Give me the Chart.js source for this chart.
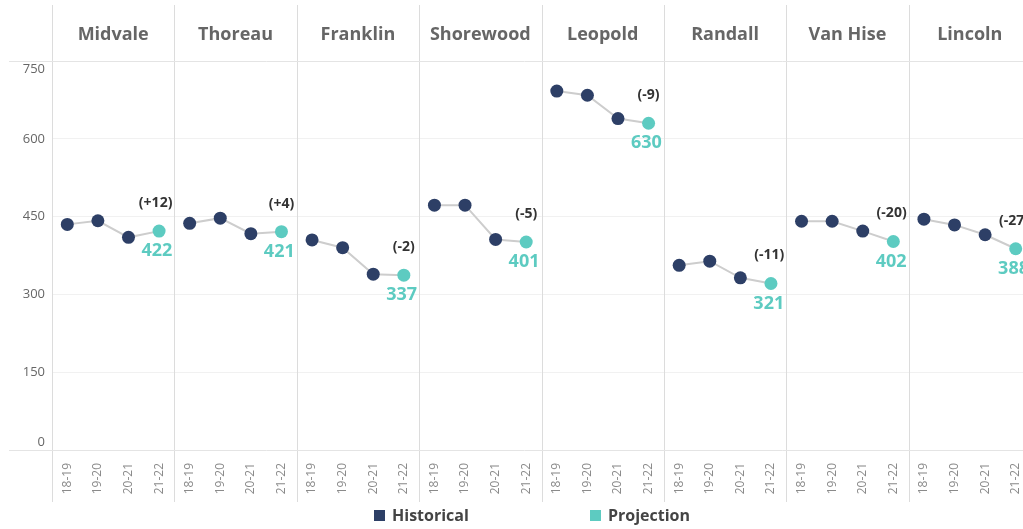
<!DOCTYPE html>
<html>
<head>
<meta charset="utf-8">
<script src="https://cdn.jsdelivr.net/npm/chart.js@4.4.1/dist/chart.umd.min.js"></script>
<style>
  html, body { margin: 0; padding: 0; background: #ffffff; overflow: hidden; width: 1023px; height: 529px; }
  #wrap { position: absolute; left: 0; top: 0; width: 1040px; height: 529px; }
  #legend { position: absolute; left: 0; top: 0; width: 1023px; height: 529px; pointer-events: none;
            font-family: "Open Sans", sans-serif; font-weight: bold; font-size: 16px; color: #444; }
  .item { position: absolute; top: 503px; line-height: 24px; white-space: nowrap; }
  .sw { position: absolute; top: 7px; width: 11px; height: 11px; }
  .lt { position: absolute; top: 0; }
</style>
</head>
<body>
<div id="wrap"><canvas id="c" width="1040" height="529"></canvas></div>
<div id="legend">
  <div class="item" style="left:374px"><span class="sw" style="left:0;background:#2d3f66"></span><span class="lt" style="left:18px">Historical</span></div>
  <div class="item" style="left:590px"><span class="sw" style="left:0;background:#5dcbc1"></span><span class="lt" style="left:18px">Projection</span></div>
</div>
<script>
// ---- data ----
const schools = ["Midvale", "Thoreau", "Franklin", "Shorewood", "Leopold", "Randall", "Van Hise", "Lincoln"];
const years   = ["18-19", "19-20", "20-21", "21-22"];
const y1819   = [435, 437, 405, 472, 692, 356, 441, 445];
const y1920   = [442, 447, 390, 472, 684, 364, 441, 434];
const y2021   = [410, 417, 339, 406, 639, 332, 422, 415];
const y2122   = [422, 421, 337, 401, 630, 321, 402, 388];   // projection
const yTicks  = [0, 150, 300, 450, 600, 750];

const NAVY = "#2d3f66", TEAL = "#5dcbc1";

// flatten into 32 categories (school x year)
const labels = [], allVals = [], hist = [], proj = [];
schools.forEach((s, i) => {
  const v = [y1819[i], y1920[i], y2021[i], y2122[i]];
  years.forEach((y, j) => {
    labels.push(y);
    allVals.push(v[j]);
    hist.push(j < 3 ? v[j] : null);
    proj.push(j === 3 ? v[j] : null);
  });
});

function boundaries(chart) {
  const x = chart.scales.x, a = chart.chartArea, b = [a.left];
  for (let k = 1; k < schools.length; k++) {
    b.push((x.getPixelForValue(4 * k - 1) + x.getPixelForValue(4 * k)) / 2);
  }
  b.push(a.right);
  return b;
}

const framePlugin = {
  id: "frame",
  beforeDatasetsDraw(chart) {
    const ctx = chart.ctx, a = chart.chartArea;
    ctx.save();
    ctx.lineWidth = 1;
    ctx.strokeStyle = "#dcdcdc";
    boundaries(chart).forEach(bx => {
      const px = Math.round(bx) + 0.5;
      ctx.beginPath(); ctx.moveTo(px, 5); ctx.lineTo(px, 502); ctx.stroke();
    });
    ctx.strokeStyle = "#e4e4e4";
    [a.top, a.bottom].forEach(py => {
      const yy = Math.round(py) + 0.5;
      ctx.beginPath(); ctx.moveTo(9, yy); ctx.lineTo(chart.width, yy); ctx.stroke();
    });
    ctx.restore();
  }
};

const labelPlugin = {
  id: "projLabels",
  afterDatasetsDraw(chart) {
    const ctx = chart.ctx;
    const meta = chart.getDatasetMeta(1);
    const b = boundaries(chart);
    ctx.save();
    ctx.textBaseline = "middle";
    ctx.textAlign = "left";
    schools.forEach((s, i) => {
      const pt = meta.data[i * 4 + 3];
      if (!pt) return;
      const d = y2122[i] - y2021[i];
      const dTxt = "(" + (d > 0 ? "+" : "") + d + ")";
      const vTxt = String(y2122[i]);
      const right = b[i + 1] - 2;
      ctx.font = "bold 14px 'Open Sans'";
      ctx.fillStyle = "#333333";
      let w = ctx.measureText(dTxt).width;
      let lx = Math.min(pt.x - w / 2, right - w);
      ctx.fillText(dTxt, lx, pt.y - 28);
      ctx.font = "bold 18px 'Open Sans'";
      ctx.fillStyle = TEAL;
      w = ctx.measureText(vTxt).width;
      lx = Math.min(pt.x - w / 2, right - w);
      ctx.fillText(vTxt, lx, pt.y + 20);
    });
    ctx.restore();
  }
};

new Chart(document.getElementById("c"), {
  type: "line",
  data: {
    labels: labels,
    datasets: [
      { label: "Historical", data: hist, showLine: false, pointRadius: 6.5, pointHoverRadius: 6.5,
        pointBackgroundColor: NAVY, pointBorderWidth: 0, borderColor: NAVY, backgroundColor: NAVY },
      { label: "Projection", data: proj, showLine: false, pointRadius: 6.5, pointHoverRadius: 6.5,
        pointBackgroundColor: TEAL, pointBorderWidth: 0, borderColor: TEAL, backgroundColor: TEAL },
      { label: "trend", data: allVals, pointRadius: 0, borderWidth: 2, borderColor: "#cdcdcd",
        segment: { borderColor: c => (c.p0DataIndex % 4 === 3 ? "rgba(0,0,0,0)" : "#cdcdcd") } }
    ]
  },
  options: {
    responsive: false,
    animation: false,
    layout: { padding: { left: 0, right: 9, top: 0, bottom: 0 } },
    plugins: { legend: { display: false }, tooltip: { enabled: false } },
    scales: {
      x: {
        type: "category", position: "bottom", offset: true,
        grid: { display: false }, border: { display: false },
        ticks: { autoSkip: false, minRotation: 90, maxRotation: 90, padding: 5,
                 color: "#8a8a8a", font: { family: "Open Sans", size: 12 } },
        afterFit: s => { s.height = 79; }
      },
      x2: {
        type: "category", position: "top", offset: true, labels: schools,
        grid: { display: false }, border: { display: false },
        ticks: { autoSkip: false, maxRotation: 0, padding: 7,
                 color: "#666666", font: { family: "Open Sans", size: 18, weight: "bold" } },
        afterFit: s => { s.height = 61; }
      },
      y: {
        min: 0, max: 750,
        afterBuildTicks: s => { s.ticks = yTicks.map(v => ({ value: v })); },
        grid: { color: c => (c.tick.value === 0 || c.tick.value === 750 ? "rgba(0,0,0,0)" : "#f1f1f1"), drawTicks: false },
        border: { display: false },
        ticks: { padding: 7, color: "#666666", font: { family: "Open Sans", size: 13 },
                 callback: v => (v === 750 ? ["", String(v)] : v === 0 ? [String(v), ""] : String(v)) },
        afterFit: s => { s.width = 52; }
      }
    }
  },
  plugins: [framePlugin, labelPlugin]
});
</script>
</body>
</html>
